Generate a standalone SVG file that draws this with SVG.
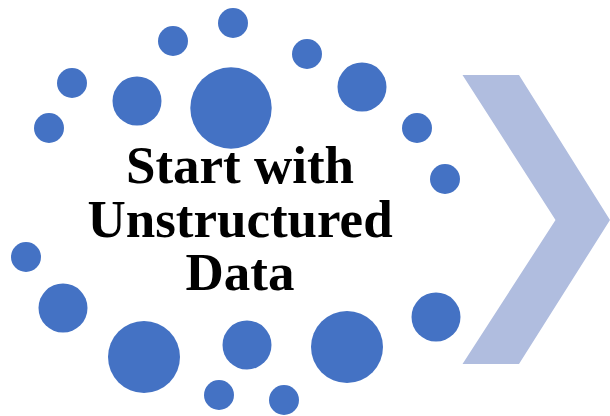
<svg xmlns="http://www.w3.org/2000/svg" width="610" height="416" viewBox="0 0 610 416">
<style>
.dot{fill:#4472C4}
.chev{fill:#B0BDDF}
.lbl{font-family:"Liberation Serif","Times New Roman",serif;font-weight:bold;font-size:53px;fill:#000;text-anchor:middle}
</style>
<rect width="610" height="416" fill="#fff"/>
<g id="chevron"><polygon class="chev" points="462.5,75 519,75 610,220 519,364 462.5,364 555.5,220"/></g>
<g id="dots">
<circle class="dot" cx="233" cy="23" r="15"/>
<circle class="dot" cx="173" cy="41" r="15"/>
<circle class="dot" cx="307" cy="54" r="15"/>
<circle class="dot" cx="72" cy="83" r="15"/>
<circle class="dot" cx="49" cy="128" r="15"/>
<circle class="dot" cx="137" cy="101" r="24.5"/>
<circle class="dot" cx="231" cy="108" r="40.7"/>
<circle class="dot" cx="362" cy="87" r="24.5"/>
<circle class="dot" cx="417" cy="128" r="15"/>
<circle class="dot" cx="445" cy="179" r="15"/>
<circle class="dot" cx="26" cy="257" r="15"/>
<circle class="dot" cx="63" cy="308" r="24.5"/>
<circle class="dot" cx="144" cy="357" r="36"/>
<circle class="dot" cx="247" cy="345" r="24.5"/>
<circle class="dot" cx="219" cy="395" r="15"/>
<circle class="dot" cx="284" cy="400" r="15"/>
<circle class="dot" cx="347" cy="347" r="36"/>
<circle class="dot" cx="436" cy="317" r="24.5"/>
</g>
<g id="label">
<text class="lbl" x="240" y="183">Start with</text>
<text class="lbl" x="240" y="237">Unstructured</text>
<text class="lbl" x="240" y="290">Data</text>
</g>
</svg>
